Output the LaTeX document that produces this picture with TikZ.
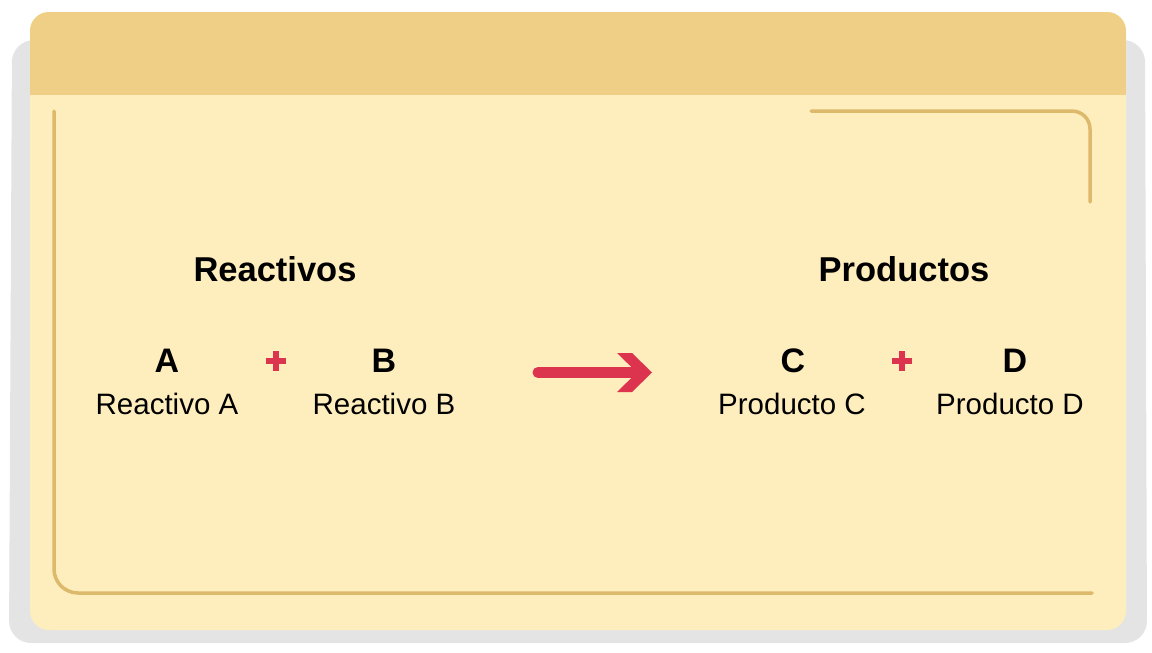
\documentclass[tikz,border=0pt]{standalone}
\usepackage{fontspec}
\setmainfont{Liberation Sans}
\definecolor{shadowgray}{HTML}{E4E4E4}
\definecolor{headeryellow}{HTML}{EFCE86}
\definecolor{bodyyellow}{HTML}{FEEDBD}
\definecolor{lineyellow}{HTML}{DCB96B}
\definecolor{accentred}{HTML}{DC334F}
\tikzset{
  title/.style={anchor=base, font=\fontsize{34.5}{38}\selectfont\bfseries, text=black, inner sep=0pt},
  letter/.style={anchor=base, font=\fontsize{34}{37}\selectfont\bfseries, text=black, inner sep=0pt},
  label/.style={anchor=base, font=\fontsize{29.5}{32}\selectfont, text=black, inner sep=0pt},
  frameline/.style={draw=lineyellow, line width=3.5pt, line cap=round, rounded corners=24pt},
  plussign/.style={fill=accentred},
}
\begin{document}
\begin{tikzpicture}[x=1pt,y=-1pt]
\useasboundingbox (0,0) rectangle (1152,653);
% shadow card
\fill[shadowgray, rounded corners=22pt] (12,40) -- (1145,40) -- (1147,643) -- (9,643) -- cycle;
% main card
\fill[bodyyellow, rounded corners=19pt] (30,12) rectangle (1126,630);
\begin{scope}
  \clip[rounded corners=19pt] (30,12) rectangle (1126,630);
  \fill[headeryellow] (30,12) rectangle (1126,95);
\end{scope}
% inner frame lines
\draw[frameline] (54,111) -- (54,593) -- (1092,593);
\draw[frameline, rounded corners=18pt] (811,111) -- (1090,111) -- (1090,202);
% titles
\node[title] (reac) at (275,281) {Reactivos};
\node[title] (prod) at (904,281) {Productos};
% letters and labels
\node[letter] (A) at (167,372) {A};
\node[label] (lA) at (167,414) {Reactivo A};
\node[letter] (B) at (384,372) {B};
\node[label] (lB) at (384,414) {Reactivo B};
\node[letter] (C) at (793,372) {C};
\node[label] (lC) at (792,414) {Producto C};
\node[letter] (D) at (1015,372) {D};
\node[label] (lD) at (1010,414) {Producto D};
% plus signs
\foreach \cx in {276,902} {
  \fill[plussign] (\cx-10,361-3.2) rectangle (\cx+10,361+3.2);
  \fill[plussign] (\cx-3.2,351) rectangle (\cx+3.2,371);
}
% arrow
\coordinate (arrS) at (538,372.5);
\coordinate (arrE) at (640,372.5);
\draw[accentred, line width=11pt, line cap=round] (arrS) -- (arrE);
\fill[accentred] (617,353) -- (632,353) -- (652,372.5) -- (632,392) -- (617,392) -- (637,372.5) -- cycle;
\end{tikzpicture}
\end{document}
